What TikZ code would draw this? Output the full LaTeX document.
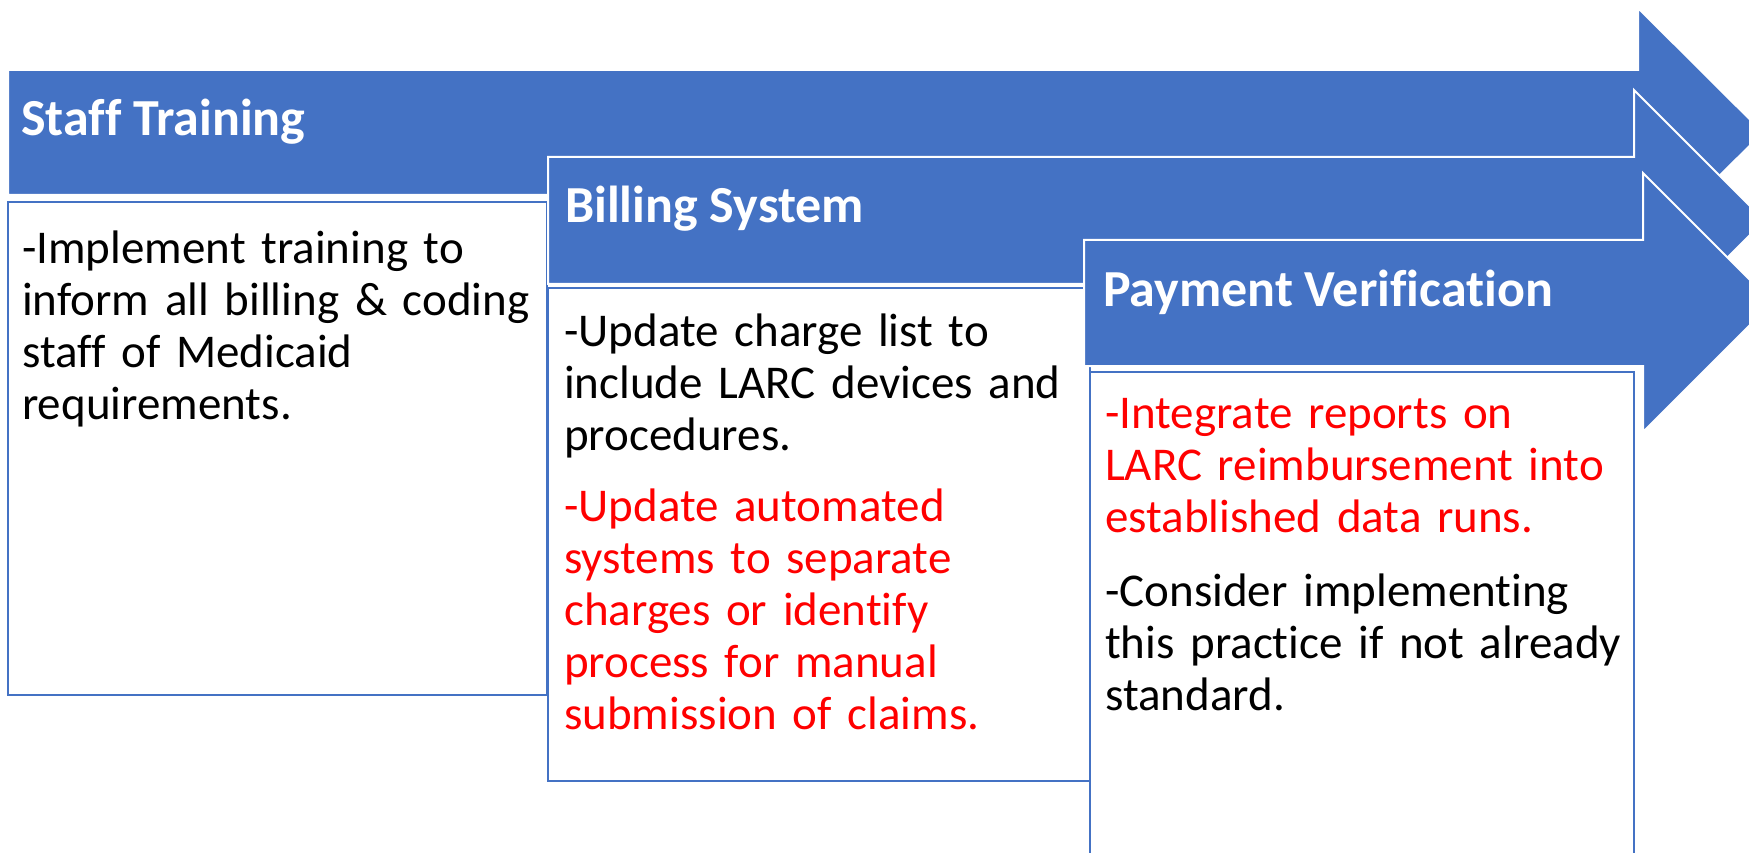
\documentclass[tikz,border=0pt]{standalone}
\usepackage{fontspec}
\setmainfont{Carlito}[Ligatures=NoCommon]
\definecolor{accentblue}{HTML}{4472C4}
\definecolor{notered}{HTML}{FF0000}

\begin{document}
\begin{tikzpicture}[x=1pt,y=1pt,yscale=-1,xscale=1,
	banner/.style={fill=accentblue, draw=white, line width=2pt, line join=miter},
	panel/.style={draw=accentblue, line width=2pt, fill=white},
	headtext/.style={anchor=base west, inner sep=0pt, text=white, font=\fontsize{52}{62}\selectfont\bfseries},
	bodytext/.style={anchor=base west, inner sep=0pt, text width=600pt, align=left, font=\fontsize{47}{52}\selectfont}]
	\useasboundingbox (0,0) rectangle (1749,853);
	\clip (0,0) rectangle (1749,853);
	% step 1
	\draw [banner] (8,70) -- (1638,70) -- (1638,8) -- (1763,132.5) -- (1638,257) -- (1638,195) -- (8,195) -- cycle ;
	\draw [panel] (8,202) rectangle (547,695) ;
	\draw (21,136) node [headtext] (stafftitle) {Staff Training};
	\draw (22,264) node [bodytext] (staffnote) {-Implement training to\\inform all billing \& coding\\staff of Medicaid\\requirements.};
	% step 2
	\draw [banner] (548,157) -- (1634,157) -- (1634,90) -- (1764.5,220.5) -- (1634,351) -- (1634,284) -- (548,284) -- cycle ;
	\draw [panel] (548,288) rectangle (1090,781) ;
	\draw (565,223) node [headtext] (billtitle) {Billing System};
	\draw (564,346) node [bodytext] (billnote) {-Update charge list to\\include LARC devices and\\procedures.};
	\draw (564,521) node [bodytext, text=notered] (billred) {-Update automated\\systems to separate\\charges or identify\\process for manual\\submission of claims.};
	% step 3
	\draw [banner] (1084,240) -- (1643,240) -- (1643,173) -- (1772.5,302.5) -- (1643,432) -- (1643,366) -- (1084,366) -- cycle ;
	\draw [panel] (1090,372) rectangle (1634,870) ;
	\draw (1103,306) node [headtext] (paytitle) {Payment Verification};
	\draw (1105,428) node [bodytext, text=notered] (payred) {-Integrate reports on\\LARC reimbursement into\\established data runs.};
	\draw (1105,606) node [bodytext] (paynote) {-Consider implementing\\this practice if not already\\standard.};
\end{tikzpicture}
\end{document}
